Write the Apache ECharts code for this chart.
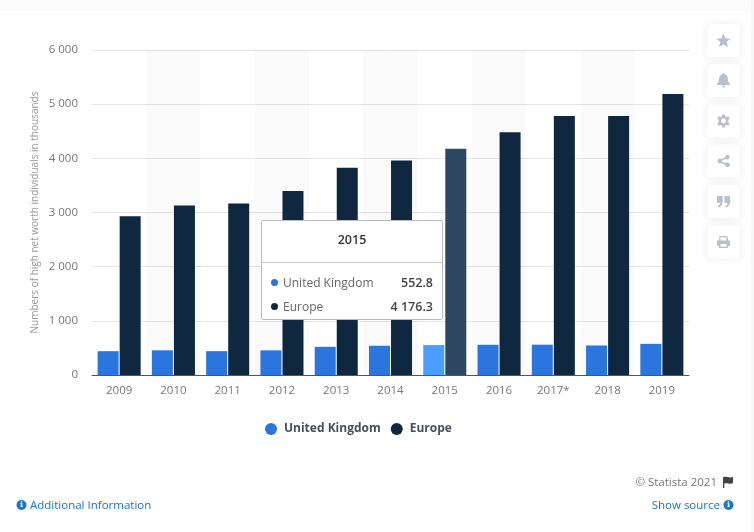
<!DOCTYPE html>
<html><head><meta charset="utf-8">
<style>html,body{margin:0;padding:0;background:#fff;width:754px;height:532px;overflow:hidden}#c{width:754px;height:532px}</style>
<script src="https://cdn.jsdelivr.net/npm/echarts@6/dist/echarts.min.js"></script>
</head><body><div id="c"></div>
<script>
const categories=['2009','2010','2011','2012','2013','2014','2015','2016','2017*','2018','2019'];
const ukValues=[440,455,440,455,520,540,552.8,558,560,545,575];
const europeValues=[2930,3130,3165,3395,3825,3960,4176.3,4480,4780,4780,5190];
const activeIndex=6;
const seriesColors={'United Kingdom':'#2a75de','Europe':'#0f2840'};
const FONT='"Open Sans",sans-serif';
const fmt=v=>{const [a,b]=String(v).split('.');return a.replace(/\B(?=(\d{3})+$)/g,' ')+(b?'.'+b:'')};
const chart=echarts.init(document.getElementById('c'),null,{renderer:'canvas'});
const icons=[
 'M0,-7 L2.1,-2.3 L7,-1.8 L3.3,1.6 L4.4,6.6 L0,4 L-4.4,6.6 L-3.3,1.6 L-7,-1.8 L-2.1,-2.3 Z',
 'M0,-7.5 C1,-7.5 1.2,-6.8 1.2,-6.3 C3.6,-5.6 4.4,-3.6 4.4,-1.5 C4.4,1 5.2,2 6.3,3.2 L6.3,4.4 L-6.3,4.4 L-6.3,3.2 C-5.2,2 -4.4,1 -4.4,-1.5 C-4.4,-3.6 -3.6,-5.6 -1.2,-6.3 C-1.2,-6.8 -1,-7.5 0,-7.5 Z M-1.8,5.2 L1.8,5.2 C1.6,6.4 .9,7 0,7 C-.9,7 -1.6,6.4 -1.8,5.2 Z',
 'M-1.3,-6.5 L1.3,-6.5 L1.7,-4.6 L3.2,-3.9 L5,-4.8 L6.3,-2.6 L4.8,-1.3 L4.8,1.3 L6.3,2.6 L5,4.8 L3.2,3.9 L1.7,4.6 L1.3,6.5 L-1.3,6.5 L-1.7,4.6 L-3.2,3.9 L-5,4.8 L-6.3,2.6 L-4.8,1.3 L-4.8,-1.3 L-6.3,-2.6 L-5,-4.8 L-3.2,-3.9 L-1.7,-4.6 Z M0,-2.4 A2.4,2.4 0 1 0 0,2.4 A2.4,2.4 0 1 0 0,-2.4 Z',
 'M3.8,-6.2 A2.4,2.4 0 1 1 3.8,-1.4 A2.4,2.4 0 0 1 2.2,-2 L-1.6,-.4 A2.4,2.4 0 0 1 -1.6,.6 L2.2,2.2 A2.4,2.4 0 1 1 1.6,3.8 L-2.2,2 A2.4,2.4 0 1 1 -2.2,-1.9 L1.5,-3.7 A2.4,2.4 0 0 1 3.8,-6.2 Z',
 'M-6.5,-5.5 L-.8,-5.5 L-.8,0 C-.8,3 -2.4,5.2 -5,6 L-5.8,4.6 C-4.4,4 -3.6,3 -3.4,1.5 L-6.5,1.5 Z M1,-5.5 L6.7,-5.5 L6.7,0 C6.7,3 5.1,5.2 2.5,6 L1.7,4.6 C3.1,4 3.9,3 4.1,1.5 L1,1.5 Z',
 'M-4,-6 L3,-6 L4.5,-4.5 L4.5,-1.5 L6.5,-1.5 L6.5,4 L4.5,4 L4.5,6 L-4.5,6 L-4.5,4 L-6.5,4 L-6.5,-1.5 L-4.5,-1.5 Z M-3,-4.7 L-3,-1.5 L3,-1.5 L3,-4.7 Z M-3,2 L-3,4.7 L3,4.7 L3,2 Z'
];
const flagPath='M0,0 L0,11 L1.3,11 L1.3,6.5 C4,5.3 6,7.6 10,6.2 L10,0 C6,1.4 4,-1 0,0 Z';
icons.forEach((d,i)=>echarts.graphic.registerShape('uiIcon'+i,echarts.graphic.extendPath(d,{})));
echarts.graphic.registerShape('uiFlag',echarts.graphic.extendPath(flagPath,{}));
const btnY=[40.5,80.5,121,161,201.5,242];
const graphic=[];
graphic.push({type:'rect',z:0,silent:true,shape:{x:0,y:0,width:754,height:11},style:{fill:'#fbfbfb'}});
graphic.push({type:'rect',z:0,silent:true,shape:{x:751,y:0,width:3,height:532},style:{fill:'#f6f6f6'}});
btnY.forEach((cy,i)=>{
 graphic.push({type:'rect',z:5,silent:true,shape:{x:707.5,y:cy-16.5,width:32.5,height:33,r:4},
  style:{fill:'#fff',shadowBlur:8,shadowColor:'rgba(60,70,90,.10)'}});
 graphic.push({type:'uiIcon'+i,z:6,silent:true,x:723.5,y:cy,style:{fill:'#b8c0cc'}});
});
const info=(x,y)=>[
 {type:'circle',z:6,silent:true,shape:{cx:x,cy:y,r:5},style:{fill:'#1a74d1'}},
 {type:'text',z:7,silent:true,x:x,y:y,style:{text:'i',fill:'#fff',font:'bold 8px "DejaVu Serif",serif',align:'center',verticalAlign:'middle'}}
];
const footFont='11.5px '+FONT;
graphic.push({type:'text',z:6,silent:true,x:717,y:482.5,style:{text:'© Statista 2021',fill:'#777',font:footFont,align:'right',verticalAlign:'middle'}});
graphic.push({type:'uiFlag',z:6,silent:true,x:723,y:477,style:{fill:'#444'}});
graphic.push(...info(21.5,505));
graphic.push({type:'text',z:6,silent:true,x:30,y:505.5,style:{text:'Additional Information',fill:'#1a74d1',font:footFont,align:'left',verticalAlign:'middle'}});
graphic.push({type:'text',z:6,silent:true,x:720,y:505.5,style:{text:'Show source',fill:'#1a74d1',font:footFont,align:'right',verticalAlign:'middle'}});
graphic.push(...info(728.5,505));
const cssFont=FONT.replace(/"/g,"'");
chart.setOption({
 animation:false,
 backgroundColor:'#fff',
 graphic,
 grid:{left:92,right:65,top:50,bottom:157,containLabel:false},
 legend:{data:['United Kingdom','Europe'],top:418,left:260,itemGap:10,itemWidth:12,itemHeight:12,icon:'circle',selectedMode:false,
  textStyle:{fontFamily:FONT,fontSize:12,fontWeight:'bold',color:'#46505a',padding:[0,0,0,2]}},
 tooltip:{trigger:'axis',alwaysShowContent:true,showContent:true,axisPointer:{type:'none'},transitionDuration:0,
  position:[261,220],padding:0,borderWidth:1,borderColor:'#bbb',borderRadius:2,backgroundColor:'#fff',
  extraCssText:'box-shadow:none;width:182px;height:100px;box-sizing:border-box;',
  formatter:params=>{
   const row=(p,top)=>`<div style="position:absolute;left:9px;right:9px;top:${top}px;height:16px;line-height:16px;font:12px ${cssFont};color:#666"><span style="display:inline-block;width:7px;height:7px;border-radius:50%;background:${seriesColors[p.seriesName]};vertical-align:1px;margin-right:5px"></span>${p.seriesName}<span style="float:right;font-weight:600;font-size:12.5px;color:#444">${fmt(p.value)}</span></div>`;
   return `<div style="position:relative;width:180px;height:98px"><div style="height:41px;text-align:center;font:600 12.5px/37px ${cssFont};color:#333;border-bottom:1px solid #ccc">${params[0].name}</div>${row(params[0],53)}${row(params[1],77)}</div>`;
  }},
 xAxis:{type:'category',data:categories,z:1,
  axisLine:{lineStyle:{color:'#555',width:1}},axisTick:{show:false},
  axisLabel:{fontFamily:FONT,fontSize:11.5,color:'#777',margin:10},
  splitArea:{show:true,interval:0,areaStyle:{color:['rgba(0,0,0,0)','rgba(0,0,0,0.02)']}},splitLine:{show:false}},
 yAxis:{type:'value',min:0,max:6000,interval:1000,z:0,
  name:'Numbers of high net worth individuals in thousands',nameLocation:'middle',nameGap:52,nameMoveOverlap:false,
  nameTextStyle:{fontFamily:FONT,fontSize:10,color:'#999'},
  axisLine:{show:false},axisTick:{show:false},
  axisLabel:{fontFamily:FONT,fontSize:11.5,color:'#777',margin:14,formatter:fmt},
  splitLine:{showMinLine:false,lineStyle:{color:'#e6e6e6',width:1}}},
 series:[
  {name:'United Kingdom',type:'bar',barWidth:21,barGap:'5%',color:seriesColors['United Kingdom'],
   data:ukValues.map((v,i)=>i===activeIndex?{value:v,itemStyle:{color:'#4390f5'}}:v)},
  {name:'Europe',type:'bar',barWidth:21,barGap:'5%',color:seriesColors['Europe'],
   data:europeValues.map((v,i)=>i===activeIndex?{value:v,itemStyle:{color:'#2b4259'}}:v)}
 ]
});
chart.dispatchAction({type:'showTip',seriesIndex:0,dataIndex:activeIndex});
</script></body></html>
